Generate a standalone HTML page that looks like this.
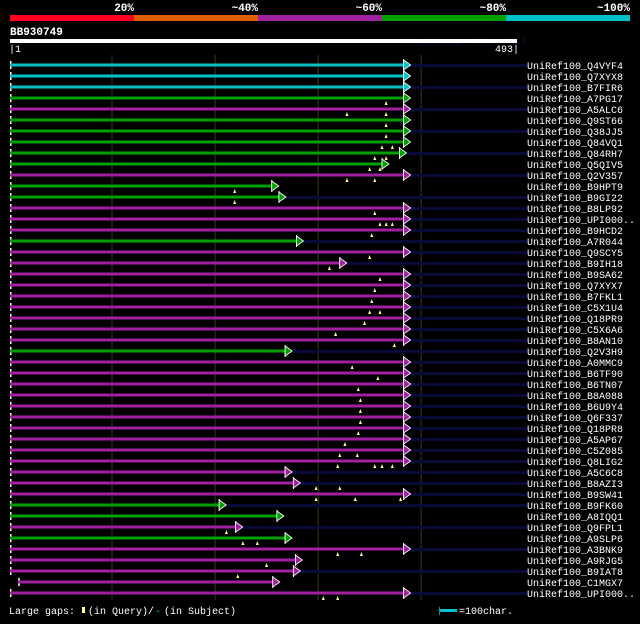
<!DOCTYPE html>
<html><head><meta charset="utf-8"><style>
body{margin:0;background:#000;width:640px;height:619px;overflow:hidden}
svg text{font-family:"Liberation Mono",monospace}
</style></head><body>
<svg id="chart" width="640" height="619" viewBox="0 0 640 619" xmlns="http://www.w3.org/2000/svg">
<rect width="640" height="619" fill="#000"/>
<g>
<rect x="10" y="15" width="124" height="6" fill="#ff0022"/>
<rect x="134" y="15" width="124" height="6" fill="#e06000"/>
<rect x="258" y="15" width="124" height="6" fill="#a020a0"/>
<rect x="382" y="15" width="124" height="6" fill="#00a000"/>
<rect x="506" y="15" width="124" height="6" fill="#00c0c8"/>
<text x="134" y="11" fill="#fff" font-size="11" font-weight="bold" text-anchor="end">20%</text>
<text x="258" y="11" fill="#fff" font-size="11" font-weight="bold" text-anchor="end">~40%</text>
<text x="382" y="11" fill="#fff" font-size="11" font-weight="bold" text-anchor="end">~60%</text>
<text x="506" y="11" fill="#fff" font-size="11" font-weight="bold" text-anchor="end">~80%</text>
<text x="630" y="11" fill="#fff" font-size="11" font-weight="bold" text-anchor="end">~100%</text>
</g>
<text x="10" y="35" fill="#fff" font-size="11" font-weight="bold">BB930749</text>
<text x="402" y="44" fill="#101040" font-size="9">AlignView.pm Beta rel.7</text>
<rect x="10" y="39" width="507" height="4" fill="#fff"/>
<text x="9" y="52" fill="#fff" font-size="10">|1</text>
<text x="519" y="52" fill="#fff" font-size="10" text-anchor="end">493|</text>
<g id="grid"></g>
<g id="rows"></g>
<g>
<text x="9" y="614" fill="#fff" font-size="10">Large gaps:</text>
<rect x="82" y="607" width="3" height="6" fill="#ffff80"/>
<text x="88" y="614" fill="#fff" font-size="10">(in Query)/</text>
<text x="155" y="614" fill="#00c0c8" font-size="10">-</text>
<text x="164" y="614" fill="#fff" font-size="10">(in Subject)</text>
<rect x="439" y="607" width="1" height="8" fill="#00a0a0"/>
<rect x="440" y="609" width="17" height="3" fill="#00c0c8"/>
<text x="459" y="614" fill="#fff" font-size="10">=100char.</text>
</g>
</svg>
<script>
const names=["Q4VYF4","Q7XYX8","B7FIR6","A7PG17","A5ALC6","Q9ST66","Q38JJ5","Q84VQ1","Q84RH7","Q5QIV5","Q2V357","B9HPT9","B9GI22","B8LP92","UPI000..","B9HCD2","A7R044","Q9SCY5","B9IH18","B9SA62","Q7XYX7","B7FKL1","C5X1U4","Q18PR9","C5X6A6","B8AN10","Q2V3H9","A0MMC9","B6TF90","B6TN07","B8A088","B6U9Y4","Q6F337","Q18PR8","A5AP67","C5Z085","Q8LIG2","A5C6C8","B8AZI3","B9SW41","B9FK60","A8IQQ1","Q9FPL1","A9SLP6","A3BNK9","A9RJG5","B9IAT8","C1MGX7","UPI000.."];
const identity=[5,5,5,4,3,4,4,4,4,4,3,4,4,3,3,3,4,3,3,3,3,3,3,3,3,3,4,3,3,3,3,3,3,3,3,3,3,3,3,3,4,4,3,4,3,3,3,3,3];
const qStart=[1,1,1,1,1,1,1,1,1,1,1,1,1,1,1,1,1,1,1,1,1,1,1,1,1,1,1,1,1,1,1,1,1,1,1,1,1,1,1,1,1,1,1,1,1,1,1,9,1];
const qEnd=[383,383,383,383,383,383,383,383,379,362,383,255,262,383,383,383,279,383,321,383,383,383,383,383,383,383,268,383,383,383,383,383,383,383,383,383,383,268,276,383,204,260,220,268,383,278,276,256,383];
const hasTail=[1,0,1,0,1,0,1,0,1,0,1,0,1,1,1,1,1,1,1,1,1,1,1,1,1,1,1,1,1,1,1,1,1,1,1,1,1,1,1,1,1,0,1,0,1,0,1,0,1];
const queryGaps=[[],[],[],[366],[328,366],[366],[366],[362,372],[355,366],[350,360],[328,355],[219],[219],[355],[360,366,372],[352],[],[350],[311],[360],[355],[352],[350,360],[345],[317],[374],[],[333],[358],[339],[341],[341],[341],[339],[326],[321,338],[319,355,362,372],[],[298,321],[298,336,380],[],[],[211],[227,241],[319,342],[250],[222],[],[305,319]];
const identityColors=["#ff0022","#e06000","#a020a0","#00a000","#00c0c8"];
const identityIdx=identity.map(v=>v-1);
const X0=10,X1=517,QLEN=493;
function xs(p){return X0+(p-1)*(X1-X0)/(QLEN-1);}
function rowY(i){return 65+i*11;}
const NS="http://www.w3.org/2000/svg";
function mk(tag,attrs,parent){const e=document.createElementNS(NS,tag);for(const k in attrs)e.setAttribute(k,attrs[k]);parent.appendChild(e);return e;}
const grid=document.getElementById('grid');
[100,200,300,400].forEach(t=>{
  const l=mk('line',{x1:xs(t),x2:xs(t),y1:55,y2:600,stroke:'#3a3a10','stroke-width':1},grid);
  
  
});
const rows=document.getElementById('rows');
names.forEach((n,i)=>{
  const y=rowY(i);
  const g=mk('g',{},rows);
  
  
  const col=identityColors[identityIdx[i]];
  const xa=xs(qStart[i]),xb=xs(qEnd[i]);
  if(hasTail[i]) mk('rect',{x:xb,y:y-1,width:527-xb,height:3,fill:'#0a0a3a'},g);
  mk('rect',{x:xa,y:y-4,width:1.5,height:8,fill:'#fff'},g);
  mk('rect',{x:xa,y:y-1.5,width:xb-xa,height:3,fill:col},g);
  mk('line',{x1:xb,x2:xb,y1:y-6,y2:y+6,stroke:'#fff','stroke-width':1},g);
  mk('polygon',{points:`${xb},${y-5} ${xb+7},${y} ${xb},${y+5}`,fill:col,stroke:'#fff','stroke-width':0.8},g);
  queryGaps[i].forEach(p=>{
    const m=mk('polygon',{points:`${xs(p)-1.5},${y+7} ${xs(p)},${y+3} ${xs(p)+1.5},${y+7}`,fill:'#ffff80'},g);
    
    
  });
  const t=mk('text',{x:527,y:y+4,fill:'#fff','font-size':10},g);
  t.textContent='UniRef100_'+n;
  
  
});
</script>
</body></html>
